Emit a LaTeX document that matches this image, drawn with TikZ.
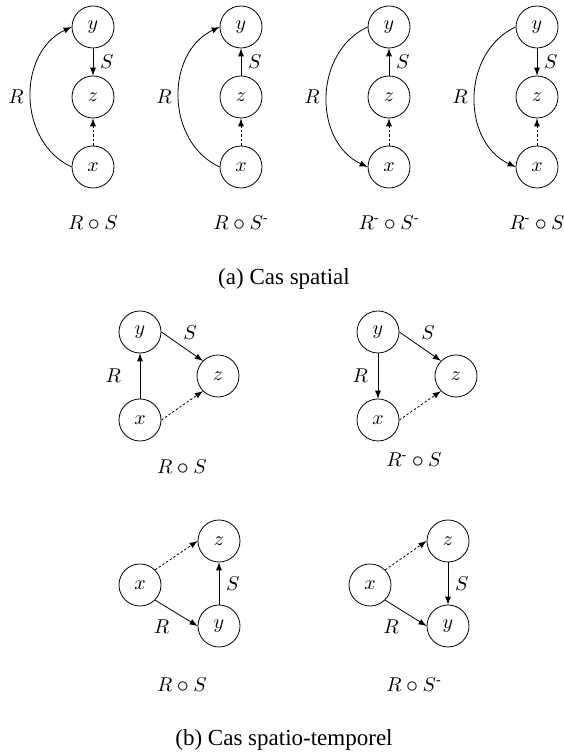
\documentclass[tikz,border=0pt]{standalone}
\usepackage{amsmath}
\usepackage{fontspec}
\setmainfont{Liberation Serif}
\usetikzlibrary{arrows}

\tikzset{
  var/.style={circle, draw, minimum size=21pt, inner sep=0pt},
  rel/.style={-latex},
  comp/.style={-latex, dash pattern=on 1.2pt off 1pt},
  lab/.style={anchor=base},
  legende/.style={anchor=base, font=\fontsize{11.5}{14}\selectfont}
}

\begin{document}
\begin{tikzpicture}[x=0.5pt, y=0.5pt]
\newcommand{\conv}{\text{-}}
\newcommand{\rond}{\mathbin{\vcenter{\hbox{\scalebox{1.2}{$\circ$}}}}}
\useasboundingbox (0,0) rectangle (563,753);

% (a) cas spatial
\foreach \i/\cx in {1/93, 2/241, 3/389, 4/537}
{
  \node[var] (y\i) at (\cx,726) {$y$};
  \node[var] (z\i) at (\cx,656) {$z$};
  \node[var] (x\i) at (\cx,586) {$x$};
  \draw[comp] (x\i.north) -- (z\i.south);
}

\draw[rel] (x1.west) to[bend left=65, looseness=1.1] node[left] {$R$} (y1.west);
\draw[rel] (y1.south) -- node[right] {$S$} (z1.north);
\node[lab] (c1) at (93,523) {$R\rond S$};

\draw[rel] (x2.west) to[bend left=65, looseness=1.1] node[left] {$R$} (y2.west);
\draw[rel] (z2.north) -- node[right] {$S$} (y2.south);
\node[lab] (c2) at (241,523) {$R\rond S^{\conv}$};

\draw[rel] (y3.west) to[bend right=65, looseness=1.1] node[left] {$R$} (x3.west);
\draw[rel] (z3.north) -- node[right] {$S$} (y3.south);
\node[lab] (c3) at (389,523) {$R^{\conv}\rond S^{\conv}$};

\draw[rel] (y4.west) to[bend right=65, looseness=1.1] node[left] {$R$} (x4.west);
\draw[rel] (y4.south) -- node[right] {$S$} (z4.north);
\node[lab] (c4) at (537,523) {$R^{\conv}\rond S$};

\node[legende] (capa) at (284,468) {(a) Cas spatial};

% (b) cas spatio-temporel, en haut
\node[var] (y5) at (140,421) {$y$};
\node[var] (z5) at (218,377) {$z$};
\node[var] (x5) at (140,333) {$x$};
\draw[rel] (x5.north) -- node[left=6pt] {$R$} (y5.south);
\draw[rel] (y5.east) -- node[above, xshift=4pt] {$S$} (z5.north west);
\draw[comp] (x5.east) -- (z5.south west);
\node[lab] (c5) at (182,279) {$R\rond S$};

\node[var] (y6) at (378,421) {$y$};
\node[var] (z6) at (456,377) {$z$};
\node[var] (x6) at (378,333) {$x$};
\draw[rel] (y6.south) -- node[left=1.5pt] {$R$} (x6.north);
\draw[rel] (y6.east) -- node[above, xshift=4pt] {$S$} (z6.north west);
\draw[comp] (x6.east) -- (z6.south west);
\node[lab] (c6) at (414,286) {$R^{\conv}\rond S$};

% (b) en bas
\node[var] (x7) at (140,168) {$x$};
\node[var] (z7) at (219,212) {$z$};
\node[var] (y7) at (219,127) {$y$};
\draw[rel] (x7.south east) -- node[below left] {$R$} (y7.west);
\draw[comp] (x7.north east) -- (z7.west);
\draw[rel] (y7.north) -- node[right] {$S$} (z7.south);
\node[lab] (c7) at (182,61) {$R\rond S$};

\node[var] (x8) at (370,168) {$x$};
\node[var] (z8) at (448,212) {$z$};
\node[var] (y8) at (448,127) {$y$};
\draw[rel] (x8.south east) -- node[below left] {$R$} (y8.west);
\draw[comp] (x8.north east) -- (z8.west);
\draw[rel] (z8.south) -- node[right] {$S$} (y8.north);
\node[lab] (c8) at (414,61) {$R\rond S^{\conv}$};

\node[legende] (capb) at (284,8) {(b) Cas spatio-temporel};
\end{tikzpicture}
\end{document}
